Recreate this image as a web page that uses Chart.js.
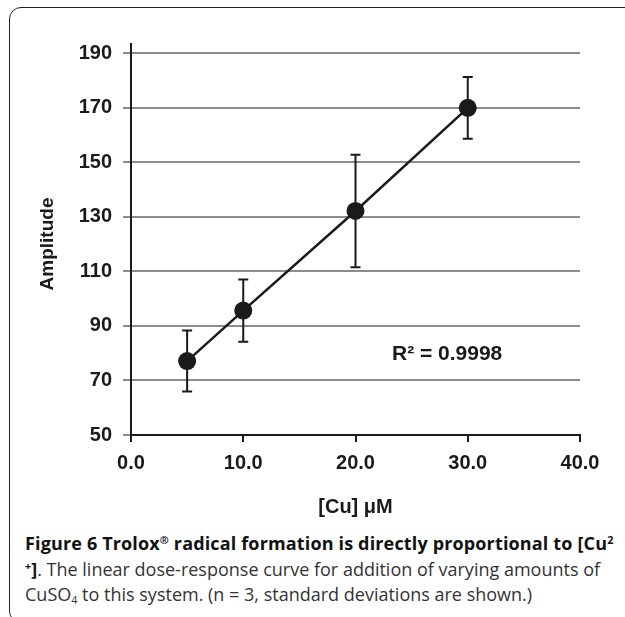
<!DOCTYPE html>
<html>
<head>
<meta charset="utf-8">
<script src="https://cdn.jsdelivr.net/npm/chart.js@4"></script>
<style>
  html, body { margin: 0; padding: 0; background: #fff; width: 625px; height: 617px; overflow: hidden; }
  #frame { position: absolute; left: 9px; top: 7px; width: 700px; height: 614px; border: 1.5px solid #222; border-radius: 12px; }
  #wrap { position: absolute; left: 0; top: 0; width: 625px; height: 525px; }
  #caption { position: absolute; left: 25px; top: 531px; font-family: 'Open Sans', sans-serif; font-size: 18px; color: #333; white-space: nowrap; }
  #caption div { height: 25.5px; line-height: 25.5px; }
  #caption b { color: #111; }
  #caption .head { letter-spacing: 0.15px; }
  sup { font-size: 0.6em; vertical-align: 0.6em; line-height: 0; }
  sub { font-size: 0.6em; vertical-align: -0.25em; line-height: 0; }
</style>
</head>
<body>
<div id="frame"></div>
<div id="wrap"><canvas id="doseChart"></canvas></div>
<div id="caption">
  <div class="head"><b>Figure 6 Trolox<sup>®</sup> radical formation is directly proportional to [Cu<sup>2</sup></b></div>
  <div><b><sup>+</sup>]</b>. The linear dose-response curve for addition of varying amounts of</div>
  <div>CuSO<sub>4</sub> to this system. (n = 3, standard deviations are shown.)</div>
</div>
<script>
// values
const concentrations = [5, 10, 20, 30];
const amplitudes = [77.1, 95.6, 132.1, 169.9];
const stdDevs = [11.2, 11.4, 20.6, 11.3];
const xTicks = [0, 10, 20, 30, 40];
const yTicks = [50, 70, 90, 110, 130, 150, 170, 190];
const rSquaredLabel = 'R\u00b2 = 0.9998';

const ink = '#1a1a1a';
const gridGray = '#8c8c8c';
const fontFamily = "'Liberation Sans', Arial, sans-serif";

// error bars + R² note + little overshoot of the y axis line
const errorBars = {
    id: 'errorBars',
    beforeDatasetsDraw(chart) {
        const ctx = chart.ctx;
        const x = chart.scales.x, y = chart.scales.y;
        ctx.save();
        ctx.strokeStyle = ink;
        ctx.lineWidth = 2;
        concentrations.forEach((c, i) => {
            const px = x.getPixelForValue(c);
            const top = y.getPixelForValue(amplitudes[i] + stdDevs[i]);
            const bot = y.getPixelForValue(amplitudes[i] - stdDevs[i]);
            ctx.beginPath();
            ctx.moveTo(px, top); ctx.lineTo(px, bot);
            ctx.moveTo(px - 5, top); ctx.lineTo(px + 5, top);
            ctx.moveTo(px - 5, bot); ctx.lineTo(px + 5, bot);
            ctx.stroke();
        });
        ctx.restore();
    },
    afterDraw(chart) {
        const ctx = chart.ctx;
        const area = chart.chartArea;
        const x = chart.scales.x, y = chart.scales.y;
        ctx.save();
        ctx.strokeStyle = ink;
        ctx.lineWidth = 2;
        ctx.beginPath();
        ctx.moveTo(area.left, area.top - 10);
        ctx.lineTo(area.left, area.top);
        ctx.stroke();
        ctx.fillStyle = ink;
        ctx.font = 'bold 21px ' + fontFamily;
        ctx.textBaseline = 'middle';
        ctx.fillText(rSquaredLabel, x.getPixelForValue(23.25), y.getPixelForValue(79.6));
        ctx.restore();
    }
};

new Chart(document.getElementById('doseChart'), {
    type: 'line',
    data: {
        datasets: [{
            data: concentrations.map((c, i) => ({ x: c, y: amplitudes[i] })),
            borderColor: ink,
            borderWidth: 2.5,
            pointRadius: 9,
            pointBackgroundColor: ink,
            pointBorderWidth: 0,
            tension: 0
        }]
    },
    options: {
        responsive: true,
        maintainAspectRatio: false,
        animation: false,
        layout: { padding: { top: 53, right: 45, left: 0, bottom: 0 } },
        plugins: { legend: { display: false }, tooltip: { enabled: false } },
        scales: {
            x: {
                type: 'linear',
                min: 0,
                max: 40,
                afterBuildTicks: (scale) => { scale.ticks = xTicks.map(v => ({ value: v })); },
                afterFit: (scale) => { scale.height = 90; },
                ticks: {
                    color: ink,
                    padding: 9,
                    font: { family: fontFamily, size: 20, weight: 'bold' },
                    callback: (v) => v.toFixed(1)
                },
                grid: { drawOnChartArea: false, tickLength: 7, tickColor: ink, lineWidth: 2 },
                border: { color: ink, width: 2 },
                title: {
                    display: true,
                    text: '[Cu] \u03bcM',
                    color: ink,
                    padding: { top: 0, bottom: 6 },
                    font: { family: fontFamily, size: 20, weight: 'bold' }
                }
            },
            y: {
                min: 50,
                max: 190,
                afterBuildTicks: (scale) => { scale.ticks = yTicks.map(v => ({ value: v })); },
                afterFit: (scale) => { scale.width = 131; },
                ticks: {
                    color: ink,
                    padding: 11,
                    font: { family: fontFamily, size: 20, weight: 'bold' }
                },
                grid: { color: gridGray, lineWidth: 2, tickLength: 8, tickColor: gridGray },
                border: { color: ink, width: 2 },
                title: {
                    display: true,
                    text: 'Amplitude',
                    color: ink,
                    padding: { top: 36, bottom: 0 },
                    font: { family: fontFamily, size: 19, weight: 'bold' }
                }
            }
        }
    },
    plugins: [errorBars]
});
</script>
</body>
</html>
